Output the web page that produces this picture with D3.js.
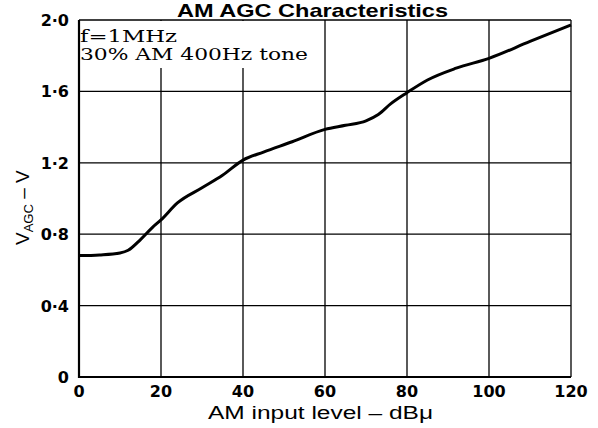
<!DOCTYPE html>
<html>
<head>
<meta charset="utf-8">
<script src="https://cdn.jsdelivr.net/npm/d3@7"></script>
<style>
  body { margin: 0; background: #fff; }
</style>
</head>
<body>
<div id="chart"></div>
<script>
// input level (dBu) and AGC voltage
const level = [0, 5, 10, 12, 15, 18, 20, 24, 30, 35, 40, 45, 52, 60, 65, 70, 73, 76, 80, 85, 92, 100, 110, 120]
const vagc = [0.68, 0.684, 0.695, 0.71, 0.77, 0.84, 0.88, 0.975, 1.06, 1.13, 1.215, 1.26, 1.318, 1.387, 1.41, 1.435, 1.47, 1.53, 1.593, 1.664, 1.73, 1.785, 1.88, 1.972]
const xTicks = [0, 20, 40, 60, 80, 100, 120]
const yTicks = [0, 0.4, 0.8, 1.2, 1.6, 2.0]
const yTickLabels = ['0', '0·4', '0·8', '1·2', '1·6', '2·0']
const notes = ['f=1MHz', '30% AM 400Hz tone']

let width = 598
let height = 428

let svg = d3.select('#chart')
  .append('svg')
  .attr('width', width)
  .attr('height', height)

let x = d3.scaleLinear().domain([0, 120]).range([79, 571])
let y = d3.scaleLinear().domain([0, 2]).range([377, 20])

let grid = svg.append('g').attr('stroke', '#000').attr('stroke-width', 1.3)

// vertical grid
grid.selectAll('line.vx')
  .data(xTicks.slice(1))
  .enter()
  .append('line')
  .attr('x1', d => x(d)).attr('x2', d => x(d))
  .attr('y1', y(0)).attr('y2', y(2))

// horizontal grid
grid.selectAll('line.hy')
  .data(yTicks.slice(1))
  .enter()
  .append('line')
  .attr('x1', x(0)).attr('x2', x(120))
  .attr('y1', d => y(d)).attr('y2', d => y(d))

// white box behind the notes
svg.append('rect')
  .attr('x', x(0) + 1)
  .attr('y', y(2) + 1)
  .attr('width', 232)
  .attr('height', 47)
  .attr('fill', '#fff')

// axis frame: left and bottom heavier
svg.append('line')
  .attr('x1', x(0)).attr('x2', x(0))
  .attr('y1', y(0) + 1).attr('y2', y(2))
  .attr('stroke', '#000').attr('stroke-width', 2.2)
svg.append('line')
  .attr('x1', x(0)).attr('x2', x(120))
  .attr('y1', y(0)).attr('y2', y(0))
  .attr('stroke', '#000').attr('stroke-width', 2.2)

// curve
let line = d3.line()
  .x((d, i) => x(level[i]))
  .y(d => y(d))
  .curve(d3.curveMonotoneX)

svg.append('path')
  .datum(vagc)
  .attr('d', line)
  .attr('fill', 'none')
  .attr('stroke', '#000')
  .attr('stroke-width', 3)
  .attr('stroke-linejoin', 'round')

// tick labels
svg.selectAll('text.xt')
  .data(xTicks)
  .enter()
  .append('text')
  .attr('x', d => x(d))
  .attr('y', 397)
  .attr('text-anchor', 'middle')
  .style('font', 'bold 16px "DejaVu Sans"')
  .text(d => d)

svg.selectAll('text.yt')
  .data(yTicks)
  .enter()
  .append('text')
  .attr('x', 69)
  .attr('y', d => y(d) + 6)
  .attr('text-anchor', 'end')
  .style('font', 'bold 16px "DejaVu Sans"')
  .text((d, i) => yTickLabels[i])

// notes
svg.selectAll('text.note')
  .data(notes)
  .enter()
  .append('text')
  .attr('x', 80)
  .attr('y', (d, i) => 42 + i * 18)
  .attr('textLength', (d, i) => i === 0 ? 97 : 228)
  .attr('lengthAdjust', 'spacingAndGlyphs')
  .style('font', '16px "DejaVu Serif"')
  .text(d => d)

// title
svg.append('text')
  .attr('x', 177)
  .attr('y', 17)
  .attr('textLength', 271)
  .attr('lengthAdjust', 'spacingAndGlyphs')
  .style('font', 'bold 19px "Liberation Sans", Arial, sans-serif')
  .text('AM AGC Characteristics')

// x label
svg.append('text')
  .attr('x', 208)
  .attr('y', 419)
  .attr('textLength', 225)
  .attr('lengthAdjust', 'spacingAndGlyphs')
  .style('font', '18px "Liberation Sans", Arial, sans-serif')
  .text('AM input level – dBμ')

// y label with subscript
let yl = svg.append('text')
  .attr('transform', 'translate(29,245) rotate(-90)')
  .style('font', '19px "Liberation Sans", Arial, sans-serif')
yl.append('tspan').text('V')
yl.append('tspan').attr('dy', 4).style('font-size', '13px').text('AGC')
yl.append('tspan').attr('dy', -4).text(' – V')
</script>
</body>
</html>
